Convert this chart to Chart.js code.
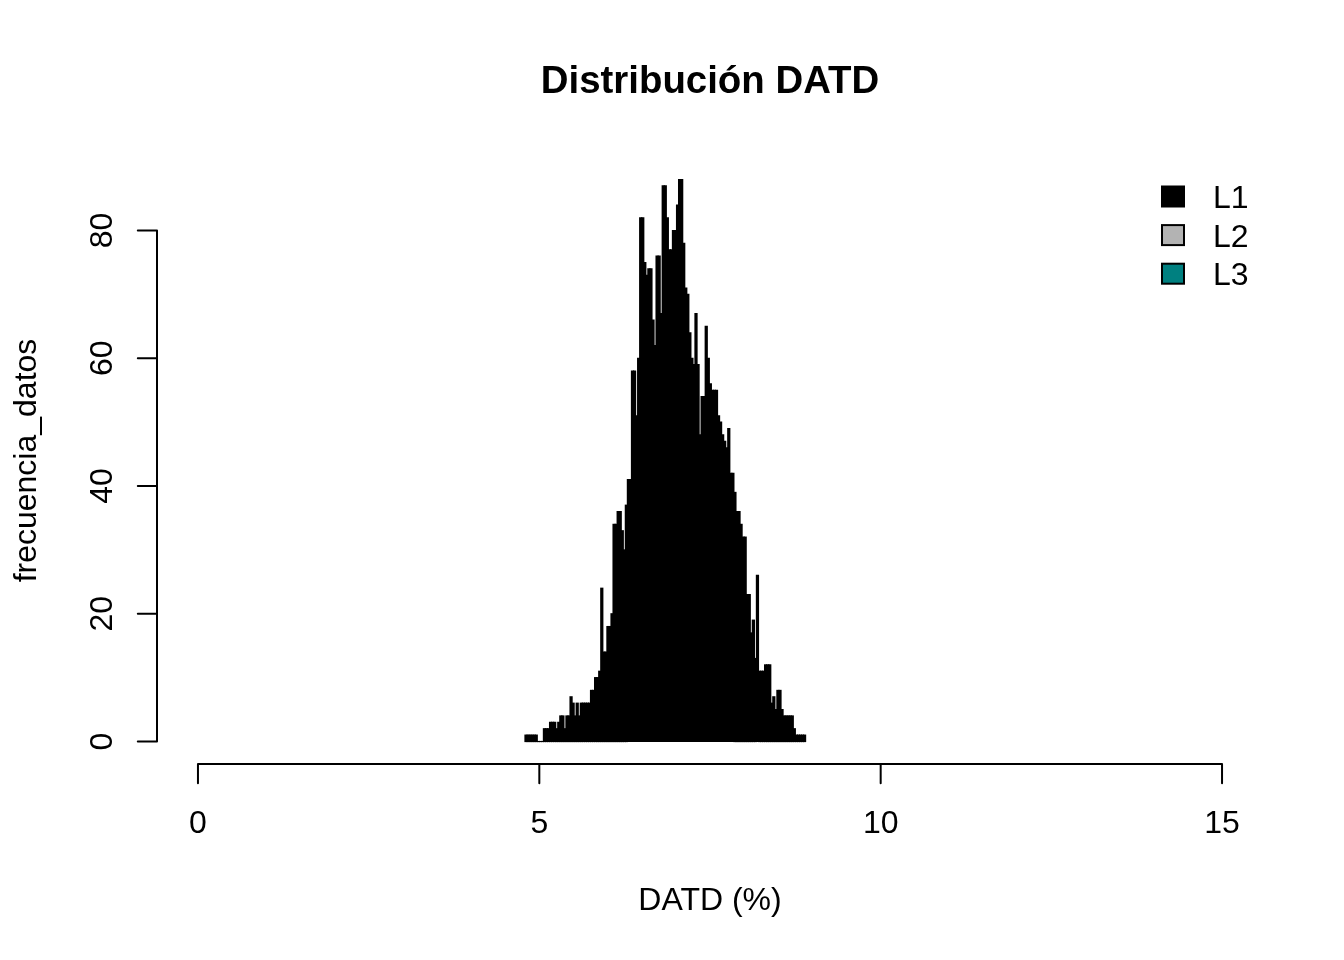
<!DOCTYPE html>
<html>
<head>
<meta charset="utf-8">
<script src="https://cdn.jsdelivr.net/npm/chart.js@4.4.0/dist/chart.umd.min.js"></script>
<style>
html,body{margin:0;padding:0;background:#ffffff;}
#wrap{width:1344px;height:960px;position:relative;}
</style>
</head>
<body>
<div id="wrap"><canvas id="c" width="1344" height="960"></canvas></div>
<script>
// ---- data ----
const binCenters = [
  4.805, 4.835, 4.865, 4.895, 4.925, 4.955, 4.985, 5.015, 5.045, 5.075,
  5.105, 5.135, 5.165, 5.195, 5.225, 5.255, 5.285, 5.315, 5.345, 5.375,
  5.405, 5.435, 5.465, 5.495, 5.525, 5.555, 5.585, 5.615, 5.645, 5.675,
  5.705, 5.735, 5.765, 5.795, 5.825, 5.855, 5.885, 5.915, 5.945, 5.975,
  6.005, 6.035, 6.065, 6.095, 6.125, 6.155, 6.185, 6.215, 6.245, 6.275,
  6.305, 6.335, 6.365, 6.395, 6.425, 6.455, 6.485, 6.515, 6.545, 6.575,
  6.605, 6.635, 6.665, 6.695, 6.725, 6.755, 6.785, 6.815, 6.845, 6.875,
  6.905, 6.935, 6.965, 6.995, 7.025, 7.055, 7.085, 7.115, 7.145, 7.175,
  7.205, 7.235, 7.265, 7.295, 7.325, 7.355, 7.385, 7.415, 7.445, 7.475,
  7.505, 7.535, 7.565, 7.595, 7.625, 7.655, 7.685, 7.715, 7.745, 7.775,
  7.805, 7.835, 7.865, 7.895, 7.925, 7.955, 7.985, 8.015, 8.045, 8.075,
  8.105, 8.135, 8.165, 8.195, 8.225, 8.255, 8.285, 8.315, 8.345, 8.375,
  8.405, 8.435, 8.465, 8.495, 8.525, 8.555, 8.585, 8.615, 8.645, 8.675,
  8.705, 8.735, 8.765, 8.795, 8.825, 8.855, 8.885
];
const countsL1 = [
  1, 1, 1, 1, 1, 1, 0, 0, 0, 2,
  2, 2, 3, 3, 3, 2, 3, 4, 4, 2,
  4, 4, 7, 6, 4, 6, 4, 6, 6, 6,
  6, 6, 8, 8, 10, 10, 11, 24, 14, 14,
  18, 18, 20, 34, 34, 36, 36, 33, 30, 37,
  41, 41, 58, 58, 51, 60, 82, 82, 75, 73,
  74, 74, 66, 62, 76, 76, 67, 87, 87, 82,
  77, 77, 80, 80, 84, 88, 88, 78, 71, 70,
  64, 60, 59, 67, 59, 48, 54, 54, 65, 60,
  56, 55, 55, 55, 51, 50, 48, 47, 46, 49,
  42, 42, 39, 36, 36, 34, 32, 32, 23, 23,
  17, 19, 13, 26, 11, 11, 11, 12, 12, 12,
  6, 7, 5, 8, 8, 5, 4, 4, 4, 4,
  4, 2, 1, 1, 1, 1, 1
];
const countsL2 = [];
const countsL3 = [];
const seriesNames = ['L1', 'L2', 'L3'];
const seriesColors = ['#000000', '#B3B3B3', '#008080'];
const xTicks = [0, 5, 10, 15];
const yTicks = [0, 20, 40, 60, 80];
const titleText = 'Distribución DATD';
const xTitle = 'DATD (%)';
const yTitle = 'frecuencia_datos';

const FONT = '"Liberation Sans", Arial, Helvetica, sans-serif';
function fnt(size, bold) { return (bold ? 'bold ' : '') + size + 'px ' + FONT; }

const decor = {
  id: 'decor',
  afterDraw(chart) {
    const ctx = chart.ctx, xs = chart.scales.x, ys = chart.scales.y, a = chart.chartArea;
    ctx.save();
    ctx.strokeStyle = '#000';
    ctx.fillStyle = '#000';
    ctx.lineWidth = 2;
    ctx.lineCap = 'round';
    const tick = 19.2;

    // x axis
    const yb = a.bottom;
    ctx.beginPath();
    ctx.moveTo(xs.getPixelForValue(xTicks[0]), yb);
    ctx.lineTo(xs.getPixelForValue(xTicks[xTicks.length - 1]), yb);
    xTicks.forEach(v => { const p = xs.getPixelForValue(v); ctx.moveTo(p, yb); ctx.lineTo(p, yb + tick); });
    ctx.stroke();
    ctx.font = fnt(32);
    ctx.textAlign = 'center';
    ctx.textBaseline = 'alphabetic';
    xTicks.forEach(v => ctx.fillText(String(v), xs.getPixelForValue(v), yb + 69));

    // y axis
    const xl = a.left;
    ctx.beginPath();
    ctx.moveTo(xl, ys.getPixelForValue(yTicks[0]));
    ctx.lineTo(xl, ys.getPixelForValue(yTicks[yTicks.length - 1]));
    yTicks.forEach(v => { const p = ys.getPixelForValue(v); ctx.moveTo(xl, p); ctx.lineTo(xl - tick, p); });
    ctx.stroke();
    yTicks.forEach(v => {
      ctx.save();
      ctx.translate(xl - 45, ys.getPixelForValue(v));
      ctx.rotate(-Math.PI / 2);
      ctx.fillText(String(v), 0, 0);
      ctx.restore();
    });

    // axis titles
    ctx.fillText(xTitle, (a.left + a.right) / 2, yb + 146);
    ctx.save();
    ctx.translate(36, (a.top + a.bottom) / 2);
    ctx.rotate(-Math.PI / 2);
    ctx.fillText(yTitle, 0, 0);
    ctx.restore();

    // main title
    ctx.font = fnt(38.4, true);
    ctx.fillText(titleText, (a.left + a.right) / 2, 93);

    // legend
    ctx.font = fnt(32);
    ctx.textAlign = 'left';
    chart.data.datasets.forEach((ds, i) => {
      const cy = 196.5 + i * 38.6;
      ctx.fillStyle = ds.backgroundColor;
      ctx.fillRect(1162, cy - 10, 22, 20);
      ctx.lineWidth = 2;
      ctx.strokeStyle = '#000';
      ctx.strokeRect(1162, cy - 10, 22, 20);
      ctx.fillStyle = '#000';
      ctx.fillText(ds.label, 1213, cy + 11.5);
    });
    ctx.restore();
  }
};

const mk = (xs, ys) => xs.map((x, i) => ({ x: x, y: ys[i] }));

new Chart(document.getElementById('c'), {
  type: 'bar',
  data: {
    datasets: [
      { label: seriesNames[0], data: mk(binCenters, countsL1), backgroundColor: seriesColors[0] },
      { label: seriesNames[1], data: mk(binCenters, countsL2), backgroundColor: seriesColors[1] },
      { label: seriesNames[2], data: mk(binCenters, countsL3), backgroundColor: seriesColors[2] }
    ]
  },
  options: {
    responsive: false,
    animation: false,
    devicePixelRatio: 1,
    layout: { padding: { left: 157, right: 81, top: 157, bottom: 196 } },
    datasets: {
      bar: { grouped: false, barPercentage: 1, categoryPercentage: 1, borderWidth: 0, inflateAmount: 0.6 }
    },
    plugins: { legend: { display: false }, title: { display: false }, tooltip: { enabled: false } },
    scales: {
      x: { type: 'linear', min: -0.6, max: 15.6, offset: false, display: false },
      y: { type: 'linear', min: -3.52, max: 91.52, display: false }
    }
  },
  plugins: [decor]
});
</script>
</body>
</html>
